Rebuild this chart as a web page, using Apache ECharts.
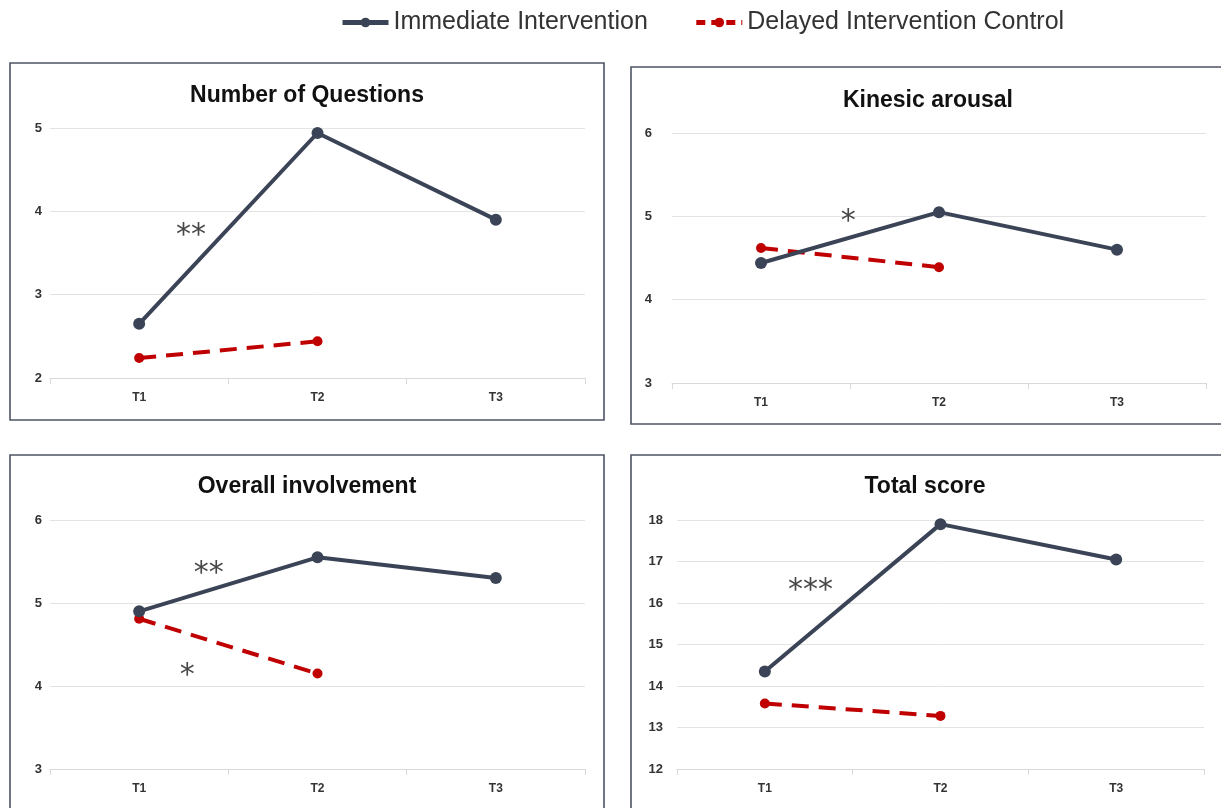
<!DOCTYPE html>
<html>
<head>
<meta charset="utf-8">
<script src="https://cdn.jsdelivr.net/npm/echarts@6/dist/echarts.min.js"></script>
<style>html,body{margin:0;padding:0;background:#fff;}#c{width:1221px;height:808px;}</style>
</head>
<body>
<div id="c"></div>
<script>
const categories = ['T1', 'T2', 'T3'];
const panelTitles = ['Number of Questions', 'Kinesic arousal', 'Overall involvement', 'Total score'];
const seriesNames = ['Immediate Intervention', 'Delayed Intervention Control'];
const immQuestions = [2.65, 4.94, 3.9];
const delQuestions = [2.24, 2.44];
const immKinesic = [4.44, 5.05, 4.6];
const delKinesic = [4.62, 4.39];
const immInvolvement = [4.9, 5.55, 5.3];
const delInvolvement = [4.81, 4.15];
const immTotal = [14.35, 17.9, 17.05];
const delTotal = [13.58, 13.28];
const yMins = [2, 3, 3, 12];
const yMaxs = [5, 6, 6, 18];
// [panel, x position (category index), y value, text]
const annotations = [
  [0, 0.29, 3.7, '**'],
  [1, 0.49, 4.93, '*'],
  [2, 0.39, 5.35, '**'],
  [2, 0.27, 4.12, '*'],
  [3, 0.26, 16.28, '***']
];

const immSeries = [immQuestions, immKinesic, immInvolvement, immTotal];
const delSeries = [delQuestions, delKinesic, delInvolvement, delTotal];

const grids = [
  {left: 50, top: 128, width: 535, height: 250},
  {left: 672, top: 133, width: 534, height: 250},
  {left: 50, top: 520, width: 535, height: 249},
  {left: 677, top: 520, width: 527, height: 249}
];
const yLabelMargins = [8, 20, 8, 14];
const titlePos = [[302, 79], [923, 84], [302, 470], [920, 470]];
const borders = [
  [10, 63, 594, 357],
  [631, 67, 620, 357],
  [10, 455, 594, 380],
  [631, 455, 620, 380]
];

const DARK = '#3b4456';
const RED = '#c00000';
const FONT = 'Liberation Sans, Arial, sans-serif';
const DASH = [17, 10];

const xAxes = [], yAxes = [], series = [], titles = [];
for (let i = 0; i < 4; i++) {
  xAxes.push({
    type: 'category', gridIndex: i, data: categories, boundaryGap: true,
    axisLine: {show: true, lineStyle: {color: '#d9d9d9', width: 1}},
    axisTick: {show: true, length: 6, lineStyle: {color: '#d9d9d9'}},
    axisLabel: {color: '#333', fontWeight: 'bold', fontSize: 12, margin: 14, fontFamily: FONT}
  });
  yAxes.push({
    type: 'value', gridIndex: i, min: yMins[i], max: yMaxs[i], interval: 1,
    axisLine: {show: false}, axisTick: {show: false},
    splitLine: {lineStyle: {color: '#e3e3e3', width: 1}},
    axisLabel: {color: '#333', fontWeight: 'bold', fontSize: 13, margin: yLabelMargins[i], fontFamily: FONT}
  });
  titles.push({
    text: panelTitles[i], left: titlePos[i][0], top: titlePos[i][1], textAlign: 'center',
    textStyle: {fontSize: 23, fontWeight: 'bold', color: '#111', fontFamily: FONT}
  });
  series.push({
    name: seriesNames[0], type: 'line', xAxisIndex: i, yAxisIndex: i,
    data: immSeries[i], symbol: 'circle', symbolSize: 12,
    lineStyle: {color: DARK, width: 4}, itemStyle: {color: DARK}, z: 3
  });
  series.push({
    name: seriesNames[1], type: 'line', xAxisIndex: i, yAxisIndex: i,
    data: delSeries[i], symbol: 'circle', symbolSize: 10,
    lineStyle: {color: RED, width: 4, type: DASH}, itemStyle: {color: RED}, z: 2
  });
}
// hidden value axes for annotation placement
for (let i = 0; i < 4; i++) {
  xAxes.push({type: 'value', gridIndex: i, min: -0.5, max: 2.5, show: false});
}
for (let i = 0; i < 4; i++) {
  const pts = annotations.filter(a => a[0] === i).map(a => ({value: [a[1], a[2]], label: {formatter: a[3]}}));
  if (pts.length) {
    series.push({
      name: 'annot' + i, type: 'scatter', xAxisIndex: 4 + i, yAxisIndex: i,
      data: pts, symbolSize: 1, itemStyle: {color: 'rgba(0,0,0,0)'}, silent: true,
      label: {show: true, position: 'inside', fontSize: 30, color: '#1a1a1a', fontFamily: 'DejaVu Sans, sans-serif'}
    });
  }
}

const graphics = borders.map(b => ({
  type: 'rect', shape: {x: b[0], y: b[1], width: b[2], height: b[3]},
  style: {fill: 'none', stroke: '#4d5463', lineWidth: 1.6}, silent: true, z: -1
}));

const chart = echarts.init(document.getElementById('c'));
chart.setOption({
  backgroundColor: '#fff',
  animation: false,
  title: titles,
  legend: {
    data: [
      {name: seriesNames[0], lineStyle: {width: 5, color: DARK, type: 'solid'}},
      {name: seriesNames[1], lineStyle: {width: 5, color: RED, type: [9, 6]}}
    ],
    top: 5, left: 335, itemWidth: 46, itemHeight: 12, itemGap: 46,
    textStyle: {fontSize: 25, color: '#333', fontFamily: FONT}
  },
  grid: grids,
  xAxis: xAxes,
  yAxis: yAxes,
  series: series,
  graphic: graphics
});
</script>
</body>
</html>
